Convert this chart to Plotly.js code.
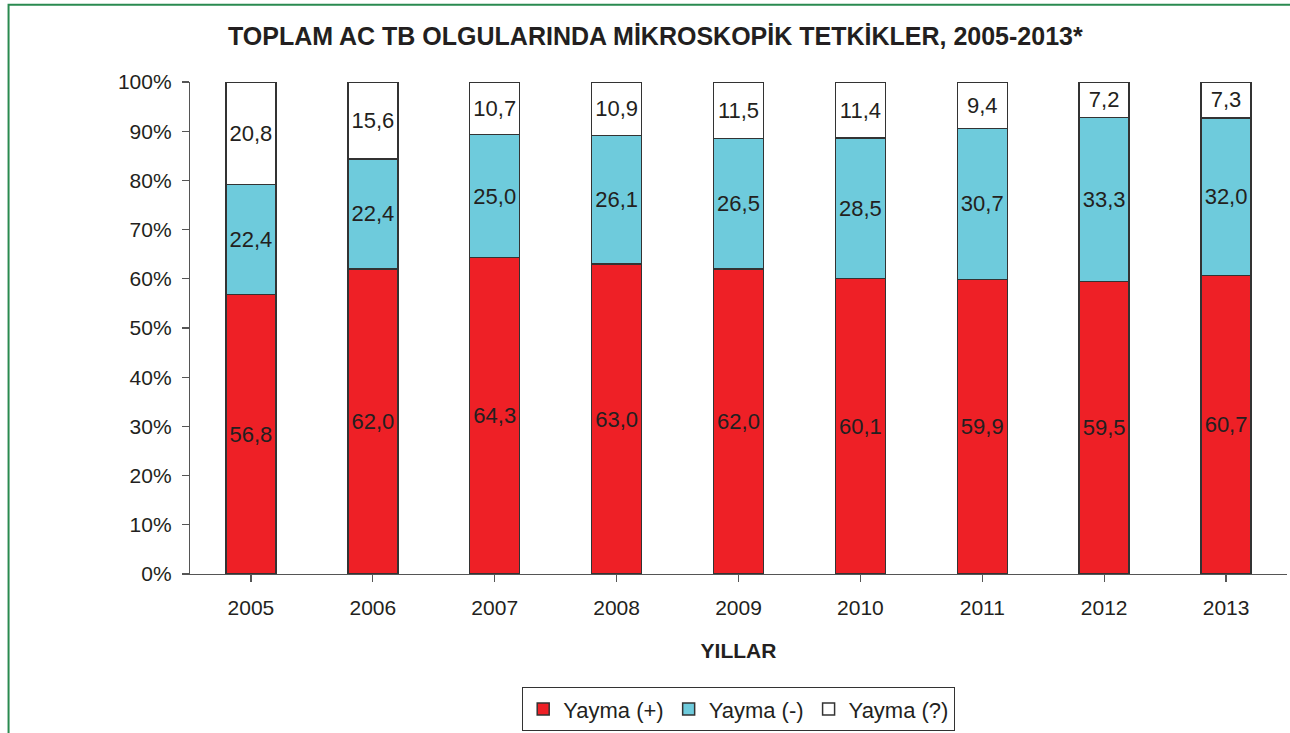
<!DOCTYPE html>
<html>
<head>
<meta charset="utf-8">
<script src="https://cdn.plot.ly/plotly-3.0.1.min.js"></script>
<style>
html,body{margin:0;padding:0;background:#fff;}
#chart{width:1290px;height:733px;}
</style>
</head>
<body>
<div id="chart"></div>
<script>
const years = ['2005','2006','2007','2008','2009','2010','2011','2012','2013'];
const yaymaPos = [56.8, 62.0, 64.3, 63.0, 62.0, 60.1, 59.9, 59.5, 60.7];
const yaymaNeg = [22.4, 22.4, 25.0, 26.1, 26.5, 28.5, 30.7, 33.3, 32.0];
const yaymaUnk = [20.8, 15.6, 10.7, 10.9, 11.5, 11.4, 9.4, 7.2, 7.3];
const seriesNames = ['Yayma (+)', 'Yayma (-)', 'Yayma (?)'];
const seriesColors = ['#ee2026', '#6ecbdc', '#ffffff'];

const fmt = v => v.toFixed(1).replace('.', ',');
const font = 'Liberation Sans, Arial, sans-serif';

function mk(vals, i) {
  return {
    type: 'bar', x: years, y: vals, name: seriesNames[i],
    marker: {color: seriesColors[i], line: {color: '#333333', width: 1.5}},
    text: vals.map(fmt), textposition: 'inside', insidetextanchor: 'middle',
    textangle: 0, constraintext: 'none',
    textfont: {family: font, size: 22, color: '#231f20'},
    hoverinfo: 'x+y'
  };
}

const data = [mk(yaymaPos, 0), mk(yaymaNeg, 1), mk(yaymaUnk, 2)];

const layout = {
  width: 1290, height: 733,
  margin: {l: 190, r: 3, t: 82, b: 158},
  paper_bgcolor: '#ffffff', plot_bgcolor: '#ffffff',
  barmode: 'stack', bargap: 0.59,
  font: {family: font, color: '#231f20'},
  title: {text: '<b>TOPLAM AC TB OLGULARINDA MİKROSKOPİK TETKİKLER, 2005-2013*</b>',
          font: {family: font, size: 25, color: '#231f20'},
          x: 0.508, xanchor: 'center', y: 0.951, yanchor: 'middle'},
  xaxis: {
    showline: true, linecolor: '#555555', linewidth: 1.2,
    ticks: 'outside', tickson: 'boundaries', ticklen: 7, tickcolor: '#555555', tickwidth: 1.2,
    ticklabelstandoff: 8, automargin: false,
    tickfont: {family: font, size: 21, color: '#231f20'},
    showgrid: false, zeroline: false,
    title: {text: '<b>YILLAR</b>', font: {family: font, size: 21, color: '#231f20'}, standoff: 24}
  },
  yaxis: {
    range: [0, 100], dtick: 10, ticksuffix: '%',
    showline: true, linecolor: '#555555', linewidth: 1.2,
    ticks: 'outside', ticklen: 7, tickcolor: '#555555', tickwidth: 1.2,
    ticklabelstandoff: 6, automargin: false,
    tickfont: {family: font, size: 21, color: '#231f20'},
    showgrid: false, zeroline: false
  },
  showlegend: true,
  legend: {orientation: 'h', x: 0.5, xanchor: 'center', y: -0.3164, yanchor: 'bottom',
           bordercolor: '#333333', borderwidth: 1.2,
           font: {family: font, size: 22, color: '#231f20'},
           traceorder: 'normal', itemwidth: 30},
  shapes: [{type: 'rect', xref: 'paper', yref: 'paper',
            x0: -0.1654, x1: 1.05, y0: -0.40, y1: 1.157,
            line: {color: '#2a8a50', width: 2}}]
};

Plotly.newPlot('chart', data, layout, {displayModeBar: false, staticPlot: true});
</script>
</body>
</html>
